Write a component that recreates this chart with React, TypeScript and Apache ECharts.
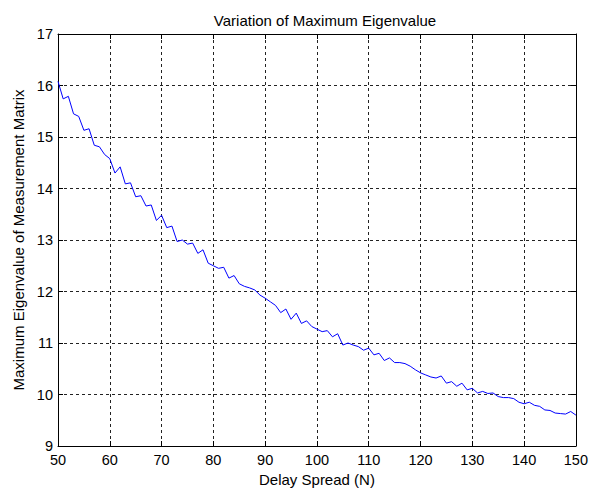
import React, { useEffect, useRef } from "react";
import * as echarts from "echarts";

const delaySpread: number[] = [];
for (let n = 50; n <= 150; n++) delaySpread.push(n);

const maxEigen: number[] = [
  16.08, 15.74, 15.79, 15.45, 15.40, 15.13, 15.16, 14.84, 14.81, 14.66,
  14.58, 14.30, 14.42, 14.09, 14.11, 13.84, 13.86, 13.66, 13.68, 13.38,
  13.48, 13.24, 13.27, 12.97, 13.00, 12.92, 12.94, 12.74, 12.81, 12.55,
  12.50, 12.45, 12.47, 12.26, 12.31, 12.15, 12.10, 12.07, 12.03, 11.93,
  11.87, 11.80, 11.73, 11.59, 11.66, 11.46, 11.58, 11.38, 11.43, 11.32,
  11.27, 11.22, 11.24, 11.12, 11.18, 10.96, 11.00, 10.96, 10.93, 10.86,
  10.90, 10.77, 10.80, 10.66, 10.71, 10.62, 10.62, 10.60, 10.55, 10.48,
  10.42, 10.38, 10.34, 10.32, 10.36, 10.22, 10.25, 10.16, 10.22, 10.09,
  10.12, 10.03, 10.06, 10.02, 10.03, 9.96, 9.94, 9.94, 9.92, 9.85,
  9.82, 9.85, 9.79, 9.77, 9.70, 9.69, 9.64, 9.63, 9.62, 9.67,
  9.60,
];

const title = "Variation of Maximum Eigenvalue";
const xName = "Delay Spread (N)";
const yName = "Maximum Eigenvalue of Measurement Matrix";

export default function App() {
  const ref = useRef<HTMLDivElement>(null);
  useEffect(() => {
    if (!ref.current) return;
    const chart = echarts.init(ref.current, undefined, { renderer: "svg" });
    const font = "Liberation Sans, Arial, sans-serif";
    const gridLine = { show: true, lineStyle: { color: "#222", type: [3, 3] as any, width: 1 } };
    const tickFs = 14.5;
    const nameFs = 15;
    chart.setOption({
      animation: false,
      backgroundColor: "#fff",
      title: {
        text: title,
        left: 320,
        textAlign: "center",
        top: 8,
        textStyle: { fontFamily: font, fontSize: nameFs, fontWeight: "normal", color: "#000" },
      },
      grid: { left: 58, right: 12, top: 34, bottom: 46, containLabel: false },
      xAxis: [
        {
          type: "value",
          min: 50,
          max: 150,
          interval: 10,
          name: xName,
          nameLocation: "middle",
          nameGap: 26,
          nameTextStyle: { fontFamily: font, fontSize: nameFs, color: "#000" },
          axisLine: { show: true, lineStyle: { color: "#000", width: 1 } },
          axisTick: { show: true, inside: true, length: 5, lineStyle: { color: "#000" } },
          axisLabel: { fontFamily: font, fontSize: tickFs, color: "#000", margin: 6 },
          splitLine: gridLine,
        },
        {
          type: "value",
          position: "top",
          min: 50,
          max: 150,
          interval: 10,
          axisLine: { show: true, lineStyle: { color: "#000", width: 1 } },
          axisTick: { show: true, inside: true, length: 5, lineStyle: { color: "#000" } },
          axisLabel: { show: false },
          splitLine: { show: false },
        },
      ],
      yAxis: [
        {
          type: "value",
          min: 9,
          max: 17,
          interval: 1,
          name: yName,
          nameLocation: "middle",
          nameGap: 31,
          nameTextStyle: { fontFamily: font, fontSize: nameFs, color: "#000" },
          axisLine: { show: true, lineStyle: { color: "#000", width: 1 } },
          axisTick: { show: true, inside: true, length: 5, lineStyle: { color: "#000" } },
          axisLabel: { fontFamily: font, fontSize: tickFs, color: "#000", margin: 5 },
          splitLine: gridLine,
        },
        {
          type: "value",
          position: "right",
          min: 9,
          max: 17,
          interval: 1,
          axisLine: { show: true, lineStyle: { color: "#000", width: 1 } },
          axisTick: { show: true, inside: true, length: 5, lineStyle: { color: "#000" } },
          axisLabel: { show: false },
          splitLine: { show: false },
        },
      ],
      series: [
        {
          type: "line",
          data: delaySpread.map((x, i) => [x, maxEigen[i]]),
          showSymbol: false,
          symbol: "none",
          lineStyle: { color: "#0000ff", width: 1 },
          itemStyle: { color: "#0000ff" },
        },
      ],
    });
    return () => chart.dispose();
  }, []);
  return (
    <div
      ref={ref}
      style={{ position: "absolute", left: 0, top: 0, width: 591, height: 492 }}
    />
  );
}
